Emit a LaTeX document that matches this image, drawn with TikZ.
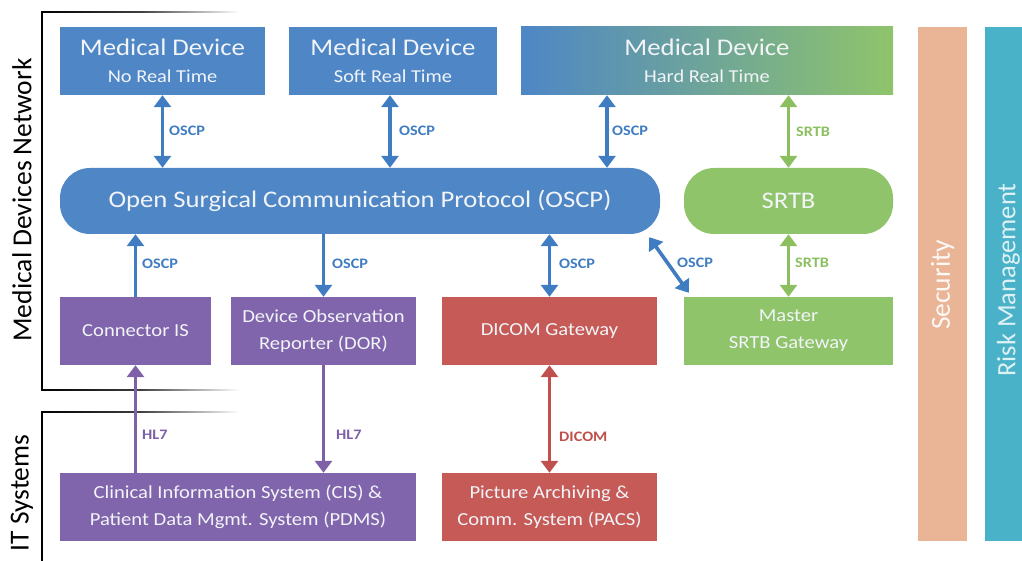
\documentclass[tikz,border=0pt]{standalone}
\usepackage{fontspec}
\setmainfont{Carlito}[FakeStretch=1.12]
\newfontfamily\plainfont{Carlito}
\usetikzlibrary{arrows.meta}
\definecolor{cblue}{HTML}{4E86C6}
\definecolor{cblueD}{HTML}{3F7CC1}
\definecolor{cgreen}{HTML}{8FC46B}
\definecolor{cgreenD}{HTML}{8CBF60}
\definecolor{cpurple}{HTML}{8065AC}
\definecolor{cpurpleD}{HTML}{7E60A8}
\definecolor{cred}{HTML}{C65A56}
\definecolor{credD}{HTML}{C0504D}
\definecolor{csec}{HTML}{E9B596}
\definecolor{crisk}{HTML}{4AB2C8}
\definecolor{ctxt}{HTML}{F2F4F8}
\tikzset{
  box/.style={draw=none, inner sep=0pt, align=center, text=ctxt,
    font=\fontsize{18.4}{27}\selectfont},
  pill/.style={box, rounded corners=30pt, font=\fontsize{23.8}{26}\selectfont},
  lab/.style={anchor=west, inner sep=0pt, font=\bfseries\fontsize{14.5}{16}\selectfont},
  sarr/.style={line width=3.6pt, -{Triangle[width=17pt,length=12pt]}},
  darr/.style={line width=3.6pt, {Triangle[width=17pt,length=12pt]}-{Triangle[width=17pt,length=12pt]}},
  side/.style={rotate=90, inner sep=0pt, font=\plainfont\fontsize{27.5}{29}\selectfont},
}
\newcommand{\mdtitle}[1]{{\fontsize{23.9}{25}\selectfont Medical Device}\\{\fontsize{18.2}{26}\selectfont #1}}
\begin{document}
\begin{tikzpicture}[x=1pt,y=-1pt]
\useasboundingbox (0,0) rectangle (1022,561);
\clip (0,0) rectangle (1022,561);

% brackets
\shade[left color=black, right color=white, middle color=black!75] (41.3,11.3) rectangle (240,12.7);
\draw[line width=1.4pt] (42,11.3) -- (42,390.7);
\shade[left color=black, right color=white, middle color=black!75] (41.3,389.3) rectangle (240,390.7);
\shade[left color=black, right color=white, middle color=black!75] (41.3,411.3) rectangle (240,412.7);
\draw[line width=1.4pt] (42,411.3) -- (42,561);
\node[side] (mdn) at (22,200) {Medical Devices Network};
\node[side] (its) at (22,493) {IT Systems};

% side columns
\node[draw=none, fill=csec, minimum width=49pt, minimum height=514pt, inner sep=0pt] (sec) at (942.5,284) {};
\node[side, text=white!90!csec] (sect) at (942.5,285) {Security};
\node[draw=none, fill=crisk, minimum width=50pt, minimum height=514pt, inner sep=0pt] (risk) at (1010,284) {};
\node[side, text=white!82!crisk, font=\plainfont\fontsize{26.5}{28}\selectfont] (riskt) at (1008.5,280) {Risk Management};

% top medical devices
\node[box, fill=cblue, minimum width=205pt, minimum height=68pt] (md1) at (162.5,61) {\mdtitle{No Real Time}};
\node[box, fill=cblue, minimum width=208pt, minimum height=68pt] (md2) at (393,61) {\mdtitle{Soft Real Time}};
\node[box, left color=cblue, right color=cgreen, minimum width=372pt, minimum height=68pt] (md3) at (707,61) {\mdtitle{Hard Real Time}};

% protocol pills
\node[pill, fill=cblue, minimum width=600pt, minimum height=66pt] (oscp) at (360,201) {Open Surgical Communication Protocol (OSCP)};
\node[pill, fill=cgreen, minimum width=209pt, minimum height=66pt] (srtb) at (788.5,201) {SRTB};

% middle row
\node[box, fill=cpurple, minimum width=151pt, minimum height=68pt] (conn) at (135.5,331) {Connector IS};
\node[box, fill=cpurple, minimum width=185pt, minimum height=68pt] (dor) at (323.5,331) {Device Observation\\Reporter (DOR)};
\node[box, fill=cred, minimum width=215pt, minimum height=68pt] (dicom) at (549.5,331) {DICOM Gateway};
\node[box, fill=cgreen, minimum width=209pt, minimum height=68pt] (master) at (788.5,331) {Master\\SRTB Gateway};

% bottom row
\node[box, fill=cpurple, minimum width=356pt, minimum height=68pt] (cis) at (238,507) {Clinical Information System (CIS) \&\\Patient Data Mgmt. System (PDMS)};
\node[box, fill=cred, minimum width=215pt, minimum height=68pt] (pacs) at (549.5,507) {Picture Archiving \&\\Comm. System (PACS)};

% connectors top
\draw[darr, cblueD] (md1.south) -- (md1.south |- oscp.north);
\coordinate (a2) at ([xshift=-3pt]md2.south);
\draw[darr, cblueD] (a2) -- (a2 |- oscp.north);
\coordinate (a3) at ([xshift=-100pt]md3.south);
\draw[darr, cblueD] (a3) -- (a3 |- oscp.north);
\draw[darr, cgreenD] (srtb.north |- md3.south) -- (srtb.north);
\node[lab, text=cblueD] (l1) at (169,131) {OSCP};
\node[lab, text=cblueD] (l2) at (399,131) {OSCP};
\node[lab, text=cblueD] (l3) at (612,131) {OSCP};
\node[lab, text=cgreenD] (l4) at (796,132) {SRTB};

% connectors middle
\draw[sarr, cblueD] (conn.north) -- (conn.north |- oscp.south);
\draw[sarr, cblueD] (dor.north |- oscp.south) -- (dor.north);
\draw[darr, cblueD] (dicom.north |- oscp.south) -- (dicom.north);
\draw[darr, cblueD] ([shift={(-11,3)}]oscp.south east) -- ([shift={(5,-4)}]master.north west);
\draw[darr, cgreenD] (srtb.south) -- (master.north);
\node[lab, text=cblueD] (l5) at (142,264) {OSCP};
\node[lab, text=cblueD] (l6) at (332,264) {OSCP};
\node[lab, text=cblueD] (l7) at (559,264) {OSCP};
\node[lab, text=cblueD] (l8) at (677,263) {OSCP};
\node[lab, text=cgreenD] (l9) at (795,263) {SRTB};

% connectors bottom
\draw[sarr, cpurpleD] (conn.south |- cis.north) -- (conn.south);
\draw[sarr, cpurpleD] (dor.south) -- (dor.south |- cis.north);
\draw[darr, credD] (dicom.south) -- (pacs.north);
\node[lab, text=cpurpleD] (l10) at (142,435) {HL7};
\node[lab, text=cpurpleD] (l11) at (336,435) {HL7};
\node[lab, text=credD] (l12) at (559,437) {DICOM};
\end{tikzpicture}
\end{document}
